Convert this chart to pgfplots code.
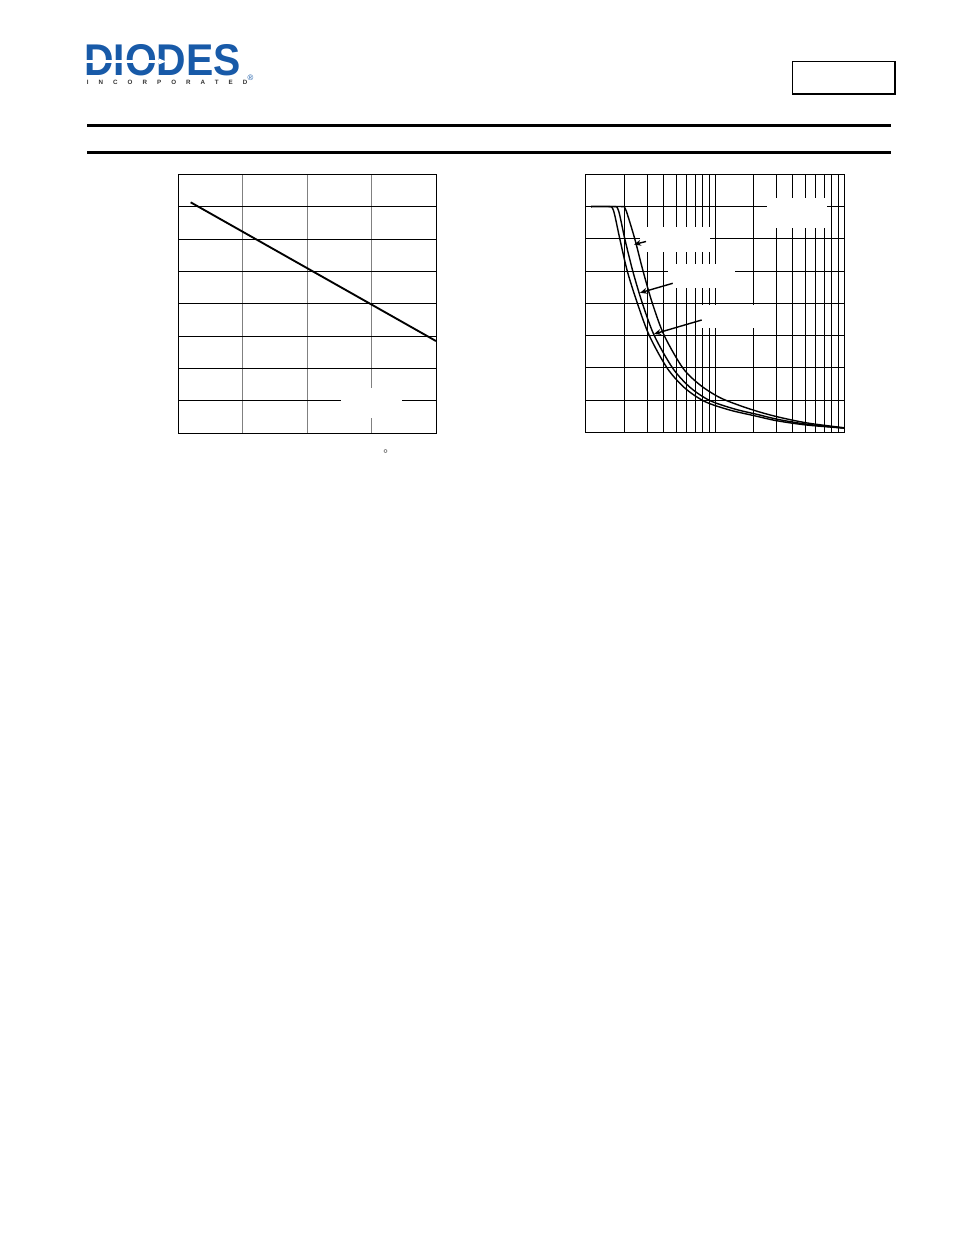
\documentclass[border=0pt]{standalone}
\usepackage{fontspec}
\setmainfont{Liberation Sans}
\usepackage{pgfplots}
\pgfplotsset{compat=1.18}
\usetikzlibrary{arrows.meta}
\definecolor{diodesblue}{RGB}{24,90,168}

\begin{document}
\begin{tikzpicture}
\begin{scope}[x=0.6414pt,y=-0.6414pt]
  \fill[white] (0,0) rectangle (954,1235);
  % logo
  \node[anchor=base west, inner sep=0pt, text=diodesblue, xscale=0.92,
        font=\fontsize{28.5}{29}\selectfont\bfseries] at (84,76) {DIODES};
  \draw[white, line width=1.3pt] (86,61.5) -- (160,61.5);
  \fill[white] (159,58.5) -- (166,61.5) -- (159,64.5) -- cycle;
  \node[anchor=center, inner sep=0pt, text=diodesblue,
        font=\fontsize{5}{5}\selectfont] at (250.5,77.5) {\textregistered};
  \node[anchor=base west, inner sep=0pt, text=black!80,
        font=\fontsize{4}{4}\selectfont\bfseries\addfontfeature{LetterSpace=161}] at (86.5,85)
        {INCORPORATED};
  % header box
  \draw[black, line width=0.7pt] (792.3,61.7) rectangle (895,94);
  \draw[black, line width=1.5pt] (895.3,61.2) -- (895.3,94.5);
  % rules
  \draw[black, line width=1.9pt] (87,125.3) -- (891,125.3);
  \draw[black, line width=1.9pt] (87,152.5) -- (891,152.5);
\end{scope}

% left chart
\begin{axis}[at={(114.36pt,-277.92pt)}, anchor=south west, scale only axis,
  width=165.29pt, height=166.12pt,
  xmin=0, xmax=200, ymin=0, ymax=800,
  xtick={0,50,...,200}, ytick={0,100,...,800},
  xticklabels={}, yticklabels={}, major tick length=0pt,
  grid=major,
  every axis x grid/.append style={black!50, line width=0.6pt},
  every axis y grid/.append style={black, line width=0.6pt},
  axis line style={black, line width=0.6pt}]
\addplot[black, line width=1.2pt] coordinates {(9.6,713.5) (50,622.6) (150,397.6) (200,285)};
\end{axis}

% right chart
\begin{axis}[at={(375.67pt,-277.28pt)}, anchor=south west, scale only axis,
  width=165.87pt, height=165.48pt,
  xmode=log, xmin=1, xmax=100, ymin=0, ymax=8,
  xtick={1,10,100}, minor xtick={2,3,4,5,6,7,8,9,20,30,40,50,60,70,80,90},
  ytick={0,1,...,8},
  xticklabels={}, yticklabels={}, major tick length=0pt, minor tick length=0pt,
  grid=both,
  major grid style={black, line width=0.6pt},
  minor grid style={black, line width=0.6pt},
  axis line style={black, line width=0.6pt}]
\addplot[black, line width=0.9pt, smooth, tension=0.5] coordinates {
  (1.099,7) (1.512,7) (1.610,6.955) (1.683,6.707) (1.839,5.984) (2.101,4.986)
  (2.510,4.0) (3.107,2.995) (4.278,1.984) (5.837,1.374) (8.327,0.955)
  (12.98,0.691) (20.25,0.512) (29.93,0.36) (51.0,0.226) (100,0.13)};
\addplot[black, line width=0.9pt, smooth, tension=0.5] coordinates {
  (1.099,7) (1.654,7) (1.760,6.955) (1.839,6.707) (2.010,5.984) (2.317,4.986)
  (2.744,4.0) (3.395,2.995) (4.716,1.984) (6.437,1.389) (9.100,0.986)
  (14.19,0.722) (21.36,0.552) (30.46,0.403) (51.0,0.251) (100,0.13)};
\addplot[black, line width=0.9pt, smooth, tension=0.5] coordinates {
  (1.099,7) (1.889,7) (2.010,6.955) (2.120,6.707) (2.401,5.984) (2.783,4.986)
  (3.277,4.0) (4.055,2.995) (5.664,1.984) (7.758,1.451) (10.87,1.079)
  (15.51,0.831) (22.13,0.629) (31.56,0.465) (51.91,0.288) (100,0.14)};
\end{axis}

\begin{scope}[x=0.6414pt,y=-0.6414pt]
  % blanked label areas
  \fill[white] (341,387.7) rectangle (402,417.7);
  \fill[white] (766.7,197.7) rectangle (826.7,227.7);
  \fill[white] (640,226.7) rectangle (710,251.7);
  \fill[white] (667.7,264) rectangle (735,288.3);
  \fill[white] (698,305) rectangle (772,328.3);
  % arrows
  \draw[black, line width=0.9pt, -{Stealth[length=4.5pt,width=3.8pt]}] (646,241.5) -- (634,244.5);
  \draw[black, line width=0.9pt, -{Stealth[length=4.5pt,width=3.8pt]}] (672.7,283.3) -- (640,292.8);
  \draw[black, line width=0.9pt, -{Stealth[length=4.5pt,width=3.8pt]}] (701.7,320) -- (654,334);
  % degree sign
  \node[anchor=north, inner sep=0pt, text=black!70,
        font=\fontsize{8}{8}\selectfont] at (385.6,449.2) {\textdegree};
\end{scope}
\end{tikzpicture}
\end{document}
